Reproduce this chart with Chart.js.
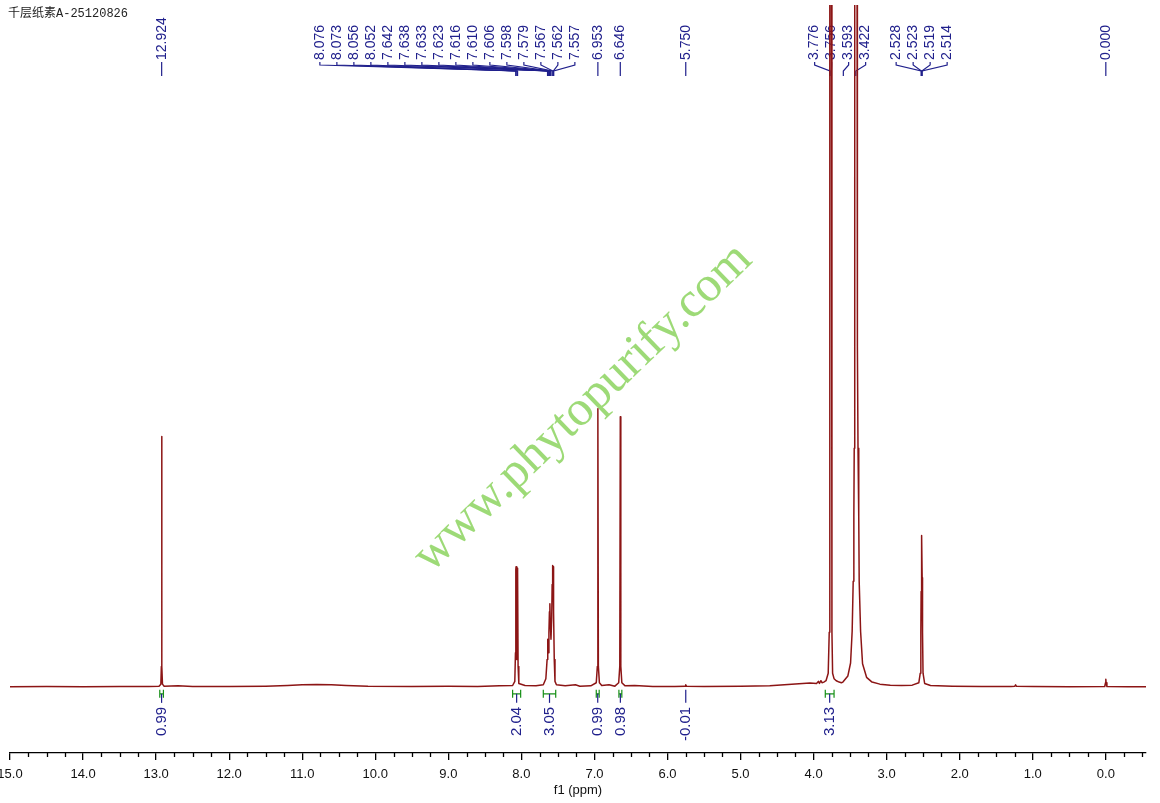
<!DOCTYPE html>
<html>
<head>
<meta charset="utf-8">
<title>NMR spectrum</title>
<script src="https://cdn.jsdelivr.net/npm/chart.js@4.4.1/dist/chart.umd.min.js"></script>
<style>
  html, body { margin: 0; padding: 0; background: #fff; overflow: hidden; }
  #wrap { position: relative; width: 1160px; height: 803px; overflow: hidden; }
  #spec { position: absolute; left: -20px; top: 0; }
</style>
</head>
<body>
<div id="wrap"><canvas id="spec" width="1180" height="803"></canvas></div>
<script>
// sample name shown top-left
const sampleName = '千层纸素A-25120826';
const watermark = 'www.phytopurify.com';

// spectrum trace: shift (ppm) and height (% of plot height)
const specPpm = [
  15.0, 14.5, 14.0, 13.5, 13.1, 12.96, 12.935, 12.928, 12.924, 12.920, 12.913, 12.89, 12.7, 12.5, 12.0,
  11.5, 11.2, 11.0, 10.8, 10.6, 10.4, 10.1, 9.5, 9.0, 8.6, 8.3, 8.12,
  8.09, 8.081, 8.076, 8.073, 8.066, 8.061, 8.056, 8.052, 8.045, 8.035, 7.95, 7.8, 7.7,
  7.665, 7.648, 7.642, 7.636, 7.630, 7.623, 7.616, 7.610, 7.603, 7.595, 7.585, 7.579, 7.572, 7.567,
  7.562, 7.557, 7.550, 7.540, 7.52, 7.4, 7.26, 7.2, 7.05,
  6.975, 6.960, 6.953, 6.946, 6.932, 6.9, 6.8, 6.72, 6.668, 6.653, 6.646, 6.639, 6.625, 6.58, 6.45,
  6.2, 5.9, 5.760, 5.750, 5.740, 5.5, 5.0, 4.6, 4.4, 4.2, 4.05, 3.96, 3.935, 3.92, 3.90, 3.885,
  3.86, 3.83, 3.80, 3.786, 3.778, 3.768, 3.758, 3.749, 3.740, 3.72, 3.69, 3.65, 3.62, 3.599,
  3.531, 3.494, 3.472, 3.458, 3.449, 3.444, 3.440, 3.437, 3.434, 3.419, 3.405, 3.402, 3.399, 3.392,
  3.382, 3.376, 3.357, 3.330, 3.275, 3.2, 3.093,
  2.95, 2.8, 2.65, 2.56, 2.540, 2.532, 2.528, 2.524, 2.519, 2.514, 2.509, 2.502, 2.48, 2.4, 2.1,
  1.7, 1.3, 1.245, 1.235, 1.225, 1.0, 0.5, 0.015, 0.004, 0.0, -0.004, -0.015, -0.3, -0.55
];
const specInt = [
  0, 0.05, 0, 0.05, 0.05, 0.1, 0.4, 3, 36.7, 3, 0.4, 0.1, 0.15, 0.05, 0.05,
  0.1, 0.2, 0.3, 0.35, 0.3, 0.2, 0.1, 0.05, 0.1, 0.05, 0.15, 0.2,
  0.8, 5, 17.2, 17.6, 4, 5, 17.4, 17.0, 3, 0.5, 0.2, 0.15, 0.3,
  1.2, 4, 7, 6, 5, 8, 11, 12.2, 9, 7, 10, 15, 17.8, 17.6,
  16, 11, 4, 0.8, 0.3, 0.15, 0.3, 0.1, 0.15,
  0.6, 3, 40.8, 3, 0.6, 0.2, 0.3, 0.1, 0.6, 3, 39.6, 3, 0.6, 0.15, 0.2,
  0.05, 0.05, 0.1, 0.3, 0.1, 0.05, 0.1, 0.15, 0.3, 0.45, 0.55, 0.5, 0.8, 0.5, 0.9, 0.6,
  0.7, 0.9, 2.0, 8, 130, 120, 130, 8, 2, 1.2, 0.9, 0.7, 0.6, 0.7,
  1.6, 3.5, 8.2, 15.5, 25, 35, 50, 70, 100, 300, 100, 70, 50, 35,
  25, 15.5, 8.2, 3.4, 1.4, 0.7, 0.4,
  0.25, 0.2, 0.25, 0.6, 2, 8, 14, 17, 22.2, 16, 8, 2, 0.5, 0.2, 0.1,
  0.05, 0.05, 0.1, 0.3, 0.1, 0.05, 0, 0.05, 0.6, 1.1, 0.6, 0.05, 0, 0
];

// peak picking labels
const singlePeaks = [12.924, 6.953, 6.646, 5.750, 0.000];
const aromPeaks = [8.076, 8.073, 8.056, 8.052, 7.642, 7.638, 7.633, 7.623, 7.616, 7.610, 7.606, 7.598, 7.579, 7.567, 7.562, 7.557];
const midPeaks = [3.776, 3.756, 3.593, 3.422];
const dmsoPeaks = [2.528, 2.523, 2.519, 2.514];

// integrals
const intStart = [12.95, 8.12, 7.70, 6.975, 6.665, 5.76, 3.84];
const intEnd = [12.90, 8.01, 7.53, 6.935, 6.625, 5.74, 3.72];
const intValue = [0.99, 2.04, 3.05, 0.99, 0.98, -0.01, 3.13];

const OFF = 20; // canvas sits 20px left of the page edge
const BLUE = '#20208c';
const GREEN = '#179017';
const RED = '#8c1515';
const LABEL_FONT = '14px "Liberation Sans", Arial, sans-serif';
const INT_FONT = '15px "Liberation Sans", Arial, sans-serif';
const LABEL_GAP = 17;
const SINGLE_GAP = 23;

function drawVText(ctx, text, x, y, align) {
  ctx.save();
  ctx.translate(x, y);
  ctx.rotate(-Math.PI / 2);
  ctx.textAlign = align;
  ctx.textBaseline = 'middle';
  ctx.fillText(text, 0, 0);
  ctx.restore();
}

const annotations = {
  id: 'nmrAnnotations',
  beforeDatasetsDraw(chart) {
    const ctx = chart.ctx;
    const xs = chart.scales.x;
    const px = v => xs.getPixelForValue(v);

    // watermark
    ctx.save();
    ctx.translate(583 + OFF, 408);
    ctx.rotate(-44 * Math.PI / 180);
    ctx.font = '50px "Liberation Serif", "Times New Roman", serif';
    ctx.fillStyle = 'rgba(140, 212, 95, 0.85)';
    ctx.textAlign = 'center';
    ctx.textBaseline = 'middle';
    ctx.fillText(watermark, 0, 0);
    ctx.restore();

    ctx.save();
    ctx.font = LABEL_FONT;
    ctx.fillStyle = BLUE;
    ctx.strokeStyle = BLUE;
    ctx.lineWidth = 1.2;

    // single peaks: straight tick under the label
    const singleX = singlePeaks.map(px);
    singlePeaks.forEach((p, i) => {
      const x = singleX[i];
      drawVText(ctx, p.toFixed(3), x, 60, 'left');
      ctx.beginPath();
      ctx.moveTo(x, 62);
      ctx.lineTo(x, 76);
      ctx.stroke();
    });

    // grouped peaks: fan the labels out and connect back to the peak
    [aromPeaks, midPeaks, dmsoPeaks].forEach(group => {
      const t = group.map(px);
      const mean = t.reduce((a, b) => a + b, 0) / t.length;
      let pos = t.map((_, i) => mean + (i - (t.length - 1) / 2) * LABEL_GAP);
      singleX.forEach(s => {
        const first = pos[0], last = pos[pos.length - 1];
        if (s > mean && last > s - SINGLE_GAP && first < s) {
          const d = (s - SINGLE_GAP) - last;
          pos = pos.map(v => v + d);
        } else if (s < mean && first < s + SINGLE_GAP && last > s) {
          const d = (s + SINGLE_GAP) - first;
          pos = pos.map(v => v + d);
        }
      });
      group.forEach((p, i) => {
        drawVText(ctx, p.toFixed(3), pos[i], 60, 'left');
        ctx.beginPath();
        ctx.moveTo(pos[i], 62);
        ctx.lineTo(pos[i], 65);
        ctx.lineTo(t[i], 71);
        ctx.lineTo(t[i], 76);
        ctx.stroke();
      });
    });

    // integrals under the baseline
    const base = chart.scales.y.getPixelForValue(0);
    ctx.font = INT_FONT;
    intValue.forEach((v, i) => {
      const x0 = px(intStart[i]), x1 = px(intEnd[i]);
      const xm = (x0 + x1) / 2;
      const yb = base + 7;
      ctx.lineWidth = 1.2;
      if (Math.abs(v) > 0.05) {
        ctx.strokeStyle = GREEN;
        ctx.beginPath();
        ctx.moveTo(x0, yb - 4); ctx.lineTo(x0, yb + 4);
        ctx.moveTo(x0, yb); ctx.lineTo(x1, yb);
        ctx.moveTo(x1, yb - 4); ctx.lineTo(x1, yb + 4);
        ctx.stroke();
      }
      ctx.strokeStyle = BLUE;
      ctx.beginPath();
      ctx.moveTo(xm, Math.abs(v) > 0.05 ? yb : base + 3);
      ctx.lineTo(xm, yb + 9);
      ctx.stroke();
      drawVText(ctx, v.toFixed(2), xm, yb + 13, 'right');
    });
    ctx.restore();
  },
  afterDraw(chart) {
    const ctx = chart.ctx;
    const xs = chart.scales.x;
    const area = chart.chartArea;
    // minor ticks every 0.25 ppm
    ctx.save();
    ctx.strokeStyle = '#000';
    ctx.lineWidth = 1.3;
    ctx.beginPath();
    for (let k = -2; k <= 60; k++) {
      const v = k * 0.25;
      if (k % 4 === 0 || v < xs.min || v > xs.max) continue;
      const x = Math.round(xs.getPixelForValue(v)) + 0.5;
      ctx.moveTo(x, area.bottom);
      ctx.lineTo(x, area.bottom + 4);
    }
    ctx.stroke();
    // sample name
    ctx.font = '12px "Liberation Mono", "Noto Sans CJK SC", monospace';
    ctx.fillStyle = '#222';
    ctx.textAlign = 'left';
    ctx.textBaseline = 'middle';
    ctx.fillText(sampleName, 8 + OFF, 14);
    ctx.restore();
  }
};

const points = specPpm.map((p, i) => ({ x: p, y: specInt[i] }));

new Chart(document.getElementById('spec').getContext('2d'), {
  type: 'scatter',
  data: {
    datasets: [{
      data: points,
      showLine: true,
      borderColor: RED,
      borderWidth: 1.5,
      borderJoinStyle: 'round',
      pointRadius: 0,
      tension: 0
    }]
  },
  options: {
    responsive: false,
    animation: false,
    events: [],
    layout: { padding: { top: 5, right: 14, bottom: 6, left: 10 + OFF } },
    plugins: {
      legend: { display: false },
      tooltip: { enabled: false }
    },
    scales: {
      x: {
        type: 'linear',
        reverse: true,
        min: -0.55,
        max: 15.0,
        afterFit: scale => { scale.paddingLeft = 0; scale.paddingRight = 0; },
        border: { color: '#000', width: 1.3 },
        grid: { drawOnChartArea: false, drawTicks: true, tickLength: 7, color: '#000', lineWidth: 1.3 },
        ticks: {
          stepSize: 1,
          includeBounds: false,
          autoSkip: false,
          maxRotation: 0,
          padding: 8,
          color: '#111',
          font: { family: '"Liberation Sans", Arial, sans-serif', size: 13, lineHeight: 1 },
          callback: v => Number(v).toFixed(1)
        },
        title: {
          display: true,
          text: 'f1 (ppm)',
          color: '#111',
          padding: { top: -5, bottom: 0 },
          font: { family: '"Liberation Sans", Arial, sans-serif', size: 13, lineHeight: 1 }
        }
      },
      y: {
        display: false,
        min: -9.7,
        max: 100
      }
    }
  },
  plugins: [annotations]
});
</script>
</body>
</html>
